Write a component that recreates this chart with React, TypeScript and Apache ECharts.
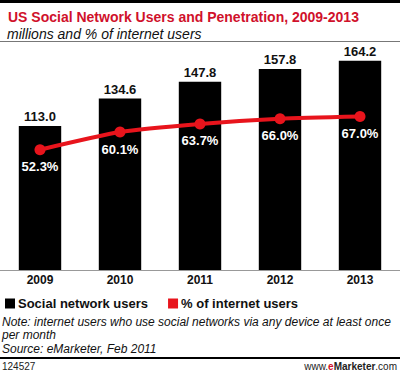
import React, { useEffect, useRef } from "react";
import * as echarts from "echarts";

const years = ["2009", "2010", "2011", "2012", "2013"];
const users = [113.0, 134.6, 147.8, 157.8, 164.2];
const penetration = [52.3, 60.1, 63.7, 66.0, 67.0];

const FONT = "'Liberation Sans', Arial, sans-serif";

export default function App() {
  const ref = useRef<HTMLDivElement>(null);
  useEffect(() => {
    if (!ref.current) return;
    const chart = echarts.init(ref.current, undefined, { renderer: "svg" });
    chart.setOption({
      animation: false,
      backgroundColor: "#ffffff",
      textStyle: { fontFamily: FONT },
      title: [
        {
          text: "US Social Network Users and Penetration, 2009-2013",
          left: 3,
          top: 5,
          textStyle: { color: "#d0112b", fontSize: 14, fontWeight: "bold", fontFamily: FONT },
        },
        {
          text: "millions and % of internet users",
          left: 2,
          top: 22,
          textStyle: { color: "#111", fontSize: 14, fontStyle: "italic", fontWeight: "normal", fontFamily: FONT },
        },
      ],
      legend: {
        left: 0,
        top: 292,
        itemWidth: 10,
        itemHeight: 10,
        itemGap: 20,
        icon: "rect",
        textStyle: { fontSize: 13, fontWeight: "bold", color: "#111", fontFamily: FONT, padding: [0, 0, 0, -2] },
        data: ["Social network users", "% of internet users"],
      },
      grid: { left: -8, width: 415, top: 42, bottom: 102, containLabel: false },
      xAxis: {
        type: "category",
        data: years,
        axisTick: { show: false },
        axisLine: { lineStyle: { color: "#999", width: 1 } },
        axisLabel: { color: "#111", fontWeight: "bold", fontSize: 12, margin: 4, fontFamily: FONT },
      },
      yAxis: [
        { type: "value", min: 0, max: 179, show: false, splitLine: { show: false } },
        { type: "value", min: -1, max: 100, show: false, splitLine: { show: false } },
      ],
      series: [
        {
          name: "Social network users",
          type: "bar",
          data: users,
          barWidth: "53%",
          itemStyle: { color: "#000000" },
          label: {
            show: true,
            position: "top",
            distance: 3,
            formatter: (p: any) => p.value.toFixed(1),
            color: "#111",
            fontWeight: "bold",
            fontSize: 13,
            fontFamily: FONT,
          },
        },
        {
          name: "% of internet users",
          type: "line",
          yAxisIndex: 1,
          data: penetration,
          symbol: "circle",
          symbolSize: 11,
          smooth: 0.2,
          lineStyle: { color: "#e8141c", width: 4 },
          itemStyle: { color: "#e8141c" },
          label: {
            show: true,
            position: "bottom",
            distance: 5,
            formatter: (p: any) => p.value.toFixed(1) + "%",
            color: "#ffffff",
            fontWeight: "bold",
            fontSize: 13,
            fontFamily: FONT,
          },
          z: 3,
        },
      ],
      graphic: [
        { type: "rect", shape: { x: 0, y: 0, width: 400, height: 3 }, style: { fill: "#000" } },
        { type: "rect", shape: { x: 0, y: 41, width: 400, height: 1 }, style: { fill: "#777" } },
        {
          type: "text",
          left: 2,
          top: 315,
          style: {
            text: "Note: internet users who use social networks via any device at least once\nper month\nSource: eMarketer, Feb 2011",
            font: `italic 12px ${FONT}`,
            fill: "#111",
            lineHeight: 13.5,
          },
        },
        { type: "rect", shape: { x: 0, y: 357, width: 400, height: 2 }, style: { fill: "#000" } },
        {
          type: "text",
          left: 2,
          top: 361,
          style: { text: "124527", font: `10px ${FONT}`, fill: "#222" },
        },
        {
          type: "text",
          right: 3,
          top: 361,
          style: {
            rich: {
              a: { font: `10px ${FONT}`, fill: "#222" },
              b: { font: `bold 10px ${FONT}`, fill: "#d0112b" },
              c: { font: `bold 10px ${FONT}`, fill: "#222" },
            },
            text: "{a|www.}{b|e}{c|Marketer}{a|.com}",
          },
        },
      ],
    });
    return () => chart.dispose();
  }, []);
  return <div ref={ref} style={{ width: 400, height: 372, position: "absolute", left: 0, top: 0 }} />;
}
